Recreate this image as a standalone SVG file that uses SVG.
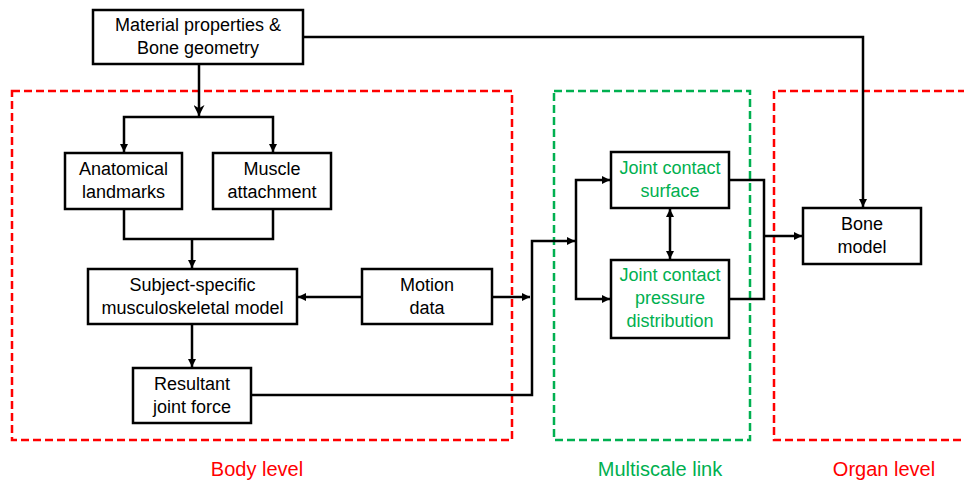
<svg xmlns="http://www.w3.org/2000/svg" width="964" height="482" viewBox="0 0 964 482">
<defs>
<marker id="ah" viewBox="0 0 10 10" refX="10" refY="5" markerWidth="9" markerHeight="8" markerUnits="userSpaceOnUse" orient="auto-start-reverse">
<path d="M0,0 L10,5 L0,10 Z" fill="#000"/>
</marker>
<marker id="ahb" viewBox="0 0 10 10" refX="10" refY="5" markerWidth="11" markerHeight="11" markerUnits="userSpaceOnUse" orient="auto">
<path d="M0,0 L10,5 L0,10 L3,5 Z" fill="#000"/>
</marker>
</defs>
<style>
.box{fill:#fff;stroke:#000;stroke-width:2.5}
.t{font-family:"Liberation Sans",Arial,sans-serif;font-size:18px;fill:#000;text-anchor:middle}
.g{fill:#00B050}
.lbl{font-family:"Liberation Sans",Arial,sans-serif;font-size:20px;text-anchor:middle}
.red{stroke:#FF0000;stroke-width:2.5;fill:none;stroke-dasharray:8,4}
.grn{stroke:#00B050;stroke-width:2.5;fill:none;stroke-dasharray:8,4}
.c{fill:none;stroke:#000;stroke-width:2.5}
</style>
<rect width="964" height="482" fill="#fff"/>
<g id="regions">
<rect class="red" x="12" y="91" width="500" height="349"/>
<rect class="grn" x="554" y="91" width="196" height="349"/>
<path class="red" d="M966,91 H774 V440 H966"/>
<text class="lbl" x="257" y="476" fill="#FF0000">Body level</text>
<text class="lbl" x="660" y="476" fill="#00B050">Multiscale link</text>
<text class="lbl" x="884" y="476" fill="#FF0000">Organ level</text>
</g>
<g id="connectors">
<path class="c" d="M303,37 H863 V207" marker-end="url(#ah)"/>
<path class="c" d="M199,64 V116" marker-end="url(#ahb)"/>
<path class="c" d="M124,152 V117 H273 V152" marker-start="url(#ah)" marker-end="url(#ah)"/>
<path class="c" d="M124,209 V239 H273 V209 M192,239 V268" marker-end="url(#ah)"/>
<path class="c" d="M192,324 V367" marker-end="url(#ah)"/>
<path class="c" d="M362,297 H298" marker-end="url(#ah)"/>
<path class="c" d="M492,297 H530" marker-end="url(#ah)"/>
<path class="c" d="M251,395 H532 V241 H575" marker-end="url(#ah)"/>
<path class="c" d="M610,180 H576 V299 H610" marker-start="url(#ah)" marker-end="url(#ah)"/>
<path class="c" d="M670,209 V259" marker-start="url(#ah)" marker-end="url(#ah)"/>
<path class="c" d="M729,180 H764 V299 H729"/>
<path class="c" d="M764,236 H802" marker-end="url(#ah)"/>
</g>
<g id="material">
<rect class="box" x="93" y="10" width="210" height="54"/>
<text class="t" x="198" y="31">Material properties &amp;</text>
<text class="t" x="198" y="54">Bone geometry</text>
</g>
<g id="anatomical">
<rect class="box" x="65" y="153" width="117" height="56"/>
<text class="t" x="123.5" y="175">Anatomical</text>
<text class="t" x="123.5" y="198">landmarks</text>
</g>
<g id="muscle">
<rect class="box" x="213" y="153" width="118" height="56"/>
<text class="t" x="272" y="175">Muscle</text>
<text class="t" x="272" y="198">attachment</text>
</g>
<g id="subject">
<rect class="box" x="88" y="269" width="209" height="55"/>
<text class="t" x="192.5" y="291">Subject-specific</text>
<text class="t" x="192.5" y="314">musculoskeletal model</text>
</g>
<g id="motion">
<rect class="box" x="362" y="269" width="130" height="55"/>
<text class="t" x="427" y="291">Motion</text>
<text class="t" x="427" y="314">data</text>
</g>
<g id="resultant">
<rect class="box" x="133" y="368" width="118" height="55"/>
<text class="t" x="192" y="390">Resultant</text>
<text class="t" x="192" y="413">joint force</text>
</g>
<g id="surface">
<rect class="box" x="611" y="152" width="118" height="56"/>
<text class="t g" x="670" y="174">Joint contact</text>
<text class="t g" x="670" y="197">surface</text>
</g>
<g id="pressure">
<rect class="box" x="611" y="260" width="118" height="78"/>
<text class="t g" x="670" y="281">Joint contact</text>
<text class="t g" x="670" y="304">pressure</text>
<text class="t g" x="670" y="327">distribution</text>
</g>
<g id="bone">
<rect class="box" x="803" y="208" width="118" height="56"/>
<text class="t" x="862" y="230">Bone</text>
<text class="t" x="862" y="253">model</text>
</g>
</svg>
